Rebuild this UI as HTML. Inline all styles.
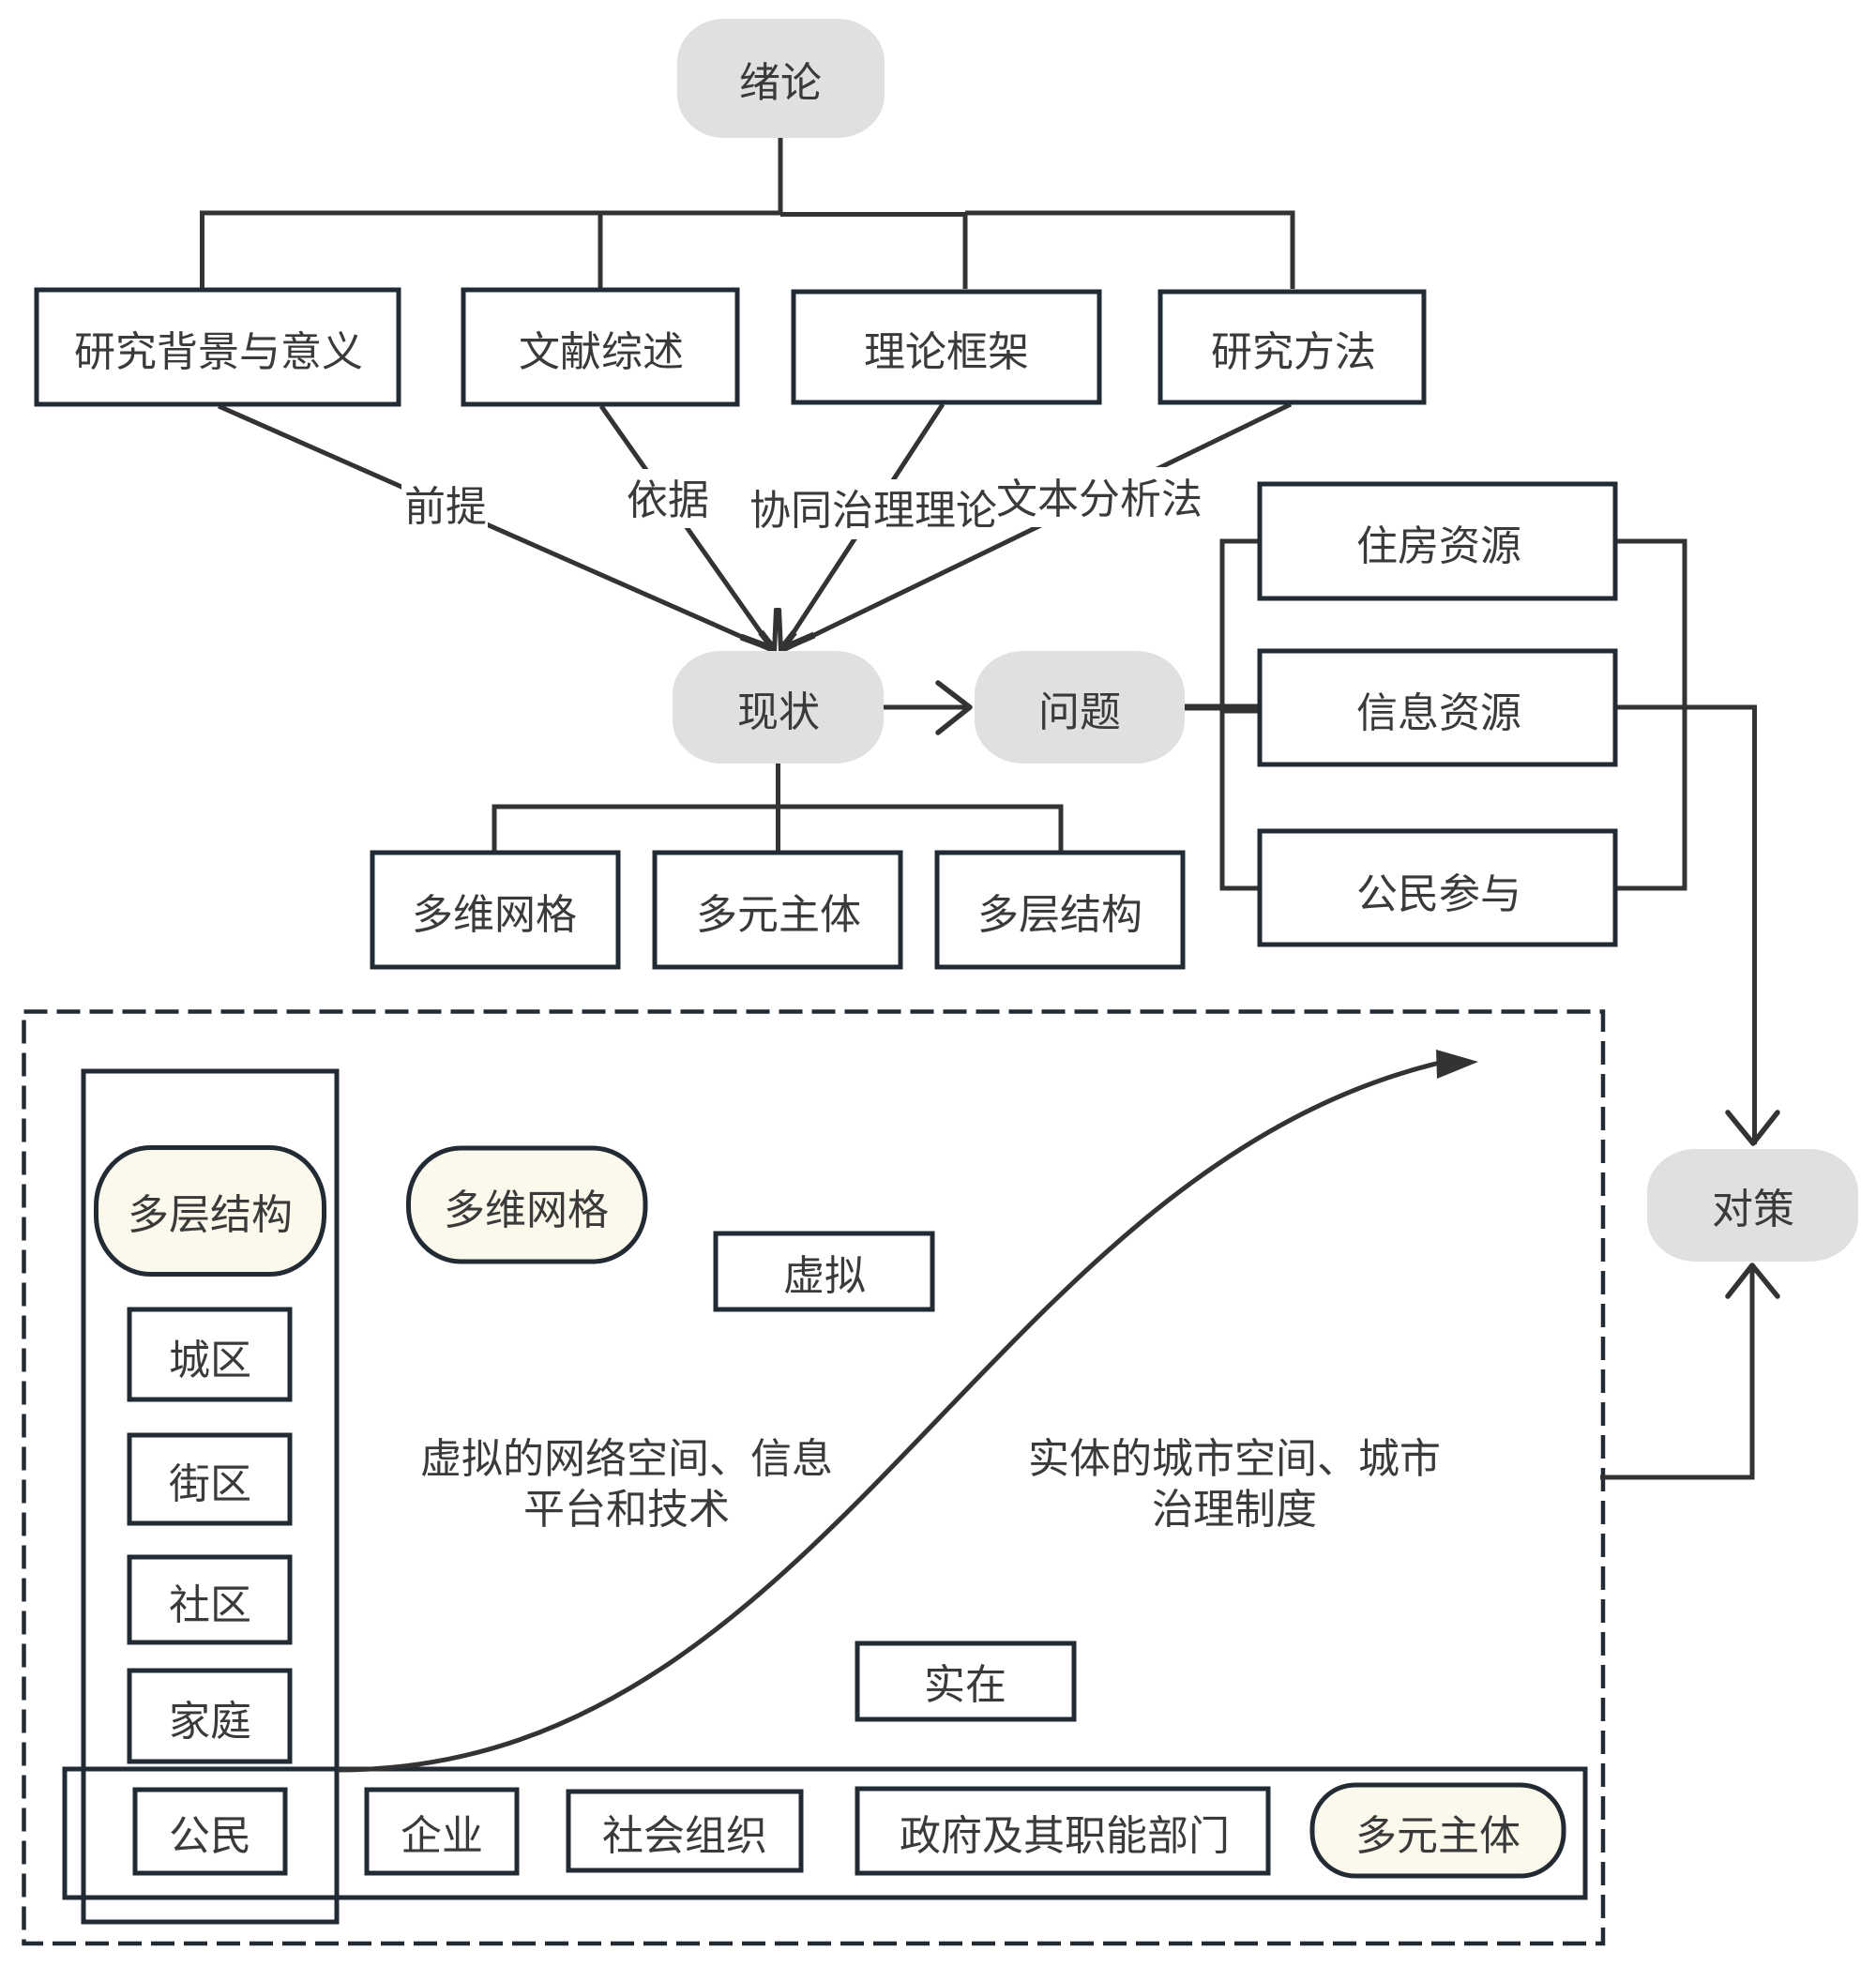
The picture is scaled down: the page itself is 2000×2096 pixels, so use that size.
<!DOCTYPE html>
<html><head><meta charset="utf-8"><style>
html,body{margin:0;padding:0;background:#fff}
svg{display:block}
text{font-family:"Liberation Sans","Noto Sans CJK SC",sans-serif;font-size:44px;fill:#3a3a3a;text-anchor:middle}
.b{fill:#fff;stroke:#222b33;stroke-width:5}
.g{fill:#e0e0e0}
.p{fill:#fbf8ec;stroke:#222b33;stroke-width:5}
.l{fill:none;stroke:#333;stroke-width:5;stroke-linejoin:miter}
.a{fill:none;stroke:#333;stroke-width:5.500;stroke-linecap:round;stroke-linejoin:round}
</style></head><body>
<svg width="2000" height="2096" viewBox="0 0 2000 2096" xmlns="http://www.w3.org/2000/svg">
<rect width="2000" height="2096" fill="#fff"/>

<!-- top tree -->
<path class="l" d="M832 146V228M215.500 308V227H832M640 227V308M832 228.500H1029M1029 228V308M1029 227H1378V308"/>
<!-- bracket connectors -->
<path class="l" d="M1341 577H1303V947H1341M1724 577H1796V947H1724"/>
<path class="l" style="stroke-width:7" d="M1263 754H1341M1303 757H1341"/>
<path class="l" d="M1724 754H1870.500V1220"/>
<path class="l" d="M1709 1575H1868V1350"/>
<path class="a" d="M1842 1186L1869 1219L1895 1186M1842 1382L1868 1349L1895 1382"/>
<!-- status connector -->
<path class="l" d="M829.500 814V907M527 907V860H1131V907"/>
<path class="l" d="M942 754H1032"/>
<path class="a" d="M1000 728L1034 754L1000 781"/>
<!-- arrows into 现状 -->
<path class="l" d="M233 433L825 694M641 433L825 694M1005 431L833 694M1376 431L833 694"/>
<path class="l" style="stroke-width:7" d="M790 679L825 692M811 674L825 692M847 674L833 692M868 677L833 692"/>
<path class="l" d="M825.500 694L827.500 649M832.500 694L830.500 649"/>
<path class="l" style="stroke-width:4;stroke-linecap:round" d="M827 650H831"/>
<!-- label masks -->
<rect x="428" y="515" width="92" height="48" fill="#fff"/>
<rect x="666" y="500" width="92" height="63" fill="#fff"/>
<rect x="798" y="511" width="264" height="64" fill="#fff"/>
<rect x="1060" y="498" width="224" height="64" fill="#fff"/>

<!-- grey nodes -->
<rect class="g" x="722" y="20" width="221" height="127" rx="50" ry="46"/>
<rect class="g" x="717" y="694" width="225" height="120" rx="52" ry="46"/>
<rect class="g" x="1039" y="694" width="224" height="120" rx="52" ry="46"/>
<rect class="g" x="1756" y="1225" width="225" height="120" rx="52" ry="46"/>

<!-- boxes -->
<rect class="b" x="39" y="309" width="386" height="122"/>
<rect class="b" x="494" y="309" width="292" height="122"/>
<rect class="b" x="846" y="311" width="326" height="118"/>
<rect class="b" x="1237" y="311" width="281" height="118"/>
<rect class="b" x="1343" y="516" width="379" height="122"/>
<rect class="b" x="1343" y="694" width="379" height="121"/>
<rect class="b" x="1343" y="886" width="379" height="121"/>
<rect class="b" x="397" y="909" width="262" height="122"/>
<rect class="b" x="698" y="909" width="262" height="122"/>
<rect class="b" x="999" y="909" width="262" height="122"/>

<!-- dashed frame -->
<rect x="25.500" y="1078.500" width="1683.500" height="993.500" fill="none" stroke="#222b33" stroke-width="4.500" stroke-dasharray="25 10"/>
<path class="l" d="M1706 1575H1712" />

<!-- containers -->
<rect x="89" y="1142" width="270" height="907" fill="none" stroke="#222b33" stroke-width="5"/>
<rect x="69" y="1886" width="1621" height="137" fill="none" stroke="#222b33" stroke-width="5"/>

<!-- inner nodes -->
<rect class="p" x="102.500" y="1223.500" width="243" height="135" rx="58" ry="62"/>
<rect class="p" x="435.500" y="1224" width="252.500" height="121" rx="56" ry="58"/>
<rect class="b" x="138" y="1396" width="171" height="96"/>
<rect class="b" x="138" y="1530" width="171" height="94"/>
<rect class="b" x="138" y="1660" width="171" height="91"/>
<rect class="b" x="138" y="1781" width="171" height="97"/>
<rect class="b" x="144" y="1908" width="160" height="89"/>
<rect class="b" x="391" y="1908" width="160" height="89"/>
<rect class="b" x="606" y="1910" width="248" height="84"/>
<rect class="b" x="914" y="1907" width="438" height="90"/>
<rect class="p" x="1399" y="1903" width="268" height="97" rx="46" ry="46"/>
<rect class="b" x="763" y="1315" width="231" height="81"/>
<rect class="b" x="914" y="1752" width="231" height="81"/>

<!-- curve -->
<path d="M360 1887C880 1887 1050 1250 1535 1133" fill="none" stroke="#333" stroke-width="5"/>
<path d="M1531 1119L1576 1132L1532 1150Z" fill="#333"/>

<!-- text -->
<g>
<text x="832" y="103">绪论</text>
<text x="233" y="390">研究背景与意义</text>
<text x="641" y="390">文献综述</text>
<text x="1009" y="390">理论框架</text>
<text x="1379" y="390">研究方法</text>
<text x="475" y="555">前提</text>
<text x="712" y="548">依据</text>
<text x="931" y="559">协同治理理论</text>
<text x="1172" y="547">文本分析法</text>
<text x="1534" y="597">住房资源</text>
<text x="1534" y="775">信息资源</text>
<text x="1534" y="968">公民参与</text>
<text x="830" y="774">现状</text>
<text x="1151" y="774">问题</text>
<text x="1869" y="1304">对策</text>
<text x="527" y="990">多维网格</text>
<text x="830" y="990">多元主体</text>
<text x="1130" y="990">多层结构</text>
<text x="224" y="1310">多层结构</text>
<text x="561" y="1305">多维网格</text>
<text x="879" y="1375">虚拟</text>
<text x="224" y="1465">城区</text>
<text x="224" y="1597">街区</text>
<text x="224" y="1726">社区</text>
<text x="224" y="1850">家庭</text>
<text x="224" y="1972">公民</text>
<text x="471" y="1972">企业</text>
<text x="730" y="1972">社会组织</text>
<text x="1135" y="1972">政府及其职能部门</text>
<text x="1533" y="1972">多元主体</text>
<text x="668" y="1570">虚拟的网络空间、信息</text>
<text x="668" y="1624">平台和技术</text>
<text x="1316" y="1570">实体的城市空间、城市</text>
<text x="1316" y="1624">治理制度</text>
<text x="1029" y="1811">实在</text>
</g>
</svg>
</body></html>
